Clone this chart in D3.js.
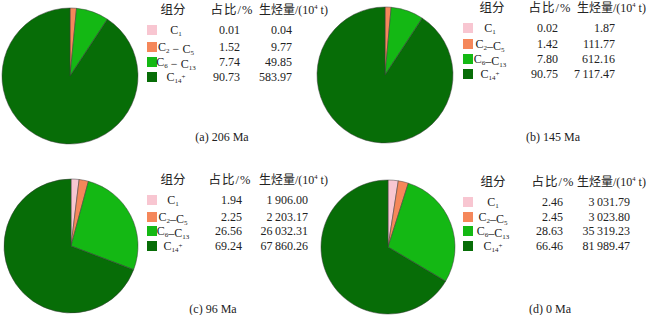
<!DOCTYPE html>
<html>
<head>
<meta charset="utf-8">
<script src="https://cdn.jsdelivr.net/npm/d3@7"></script>
<style>
  body { margin: 0; background: #fff; }
  svg text { font-family: "Liberation Serif", "Times New Roman", "Noto Sans CJK SC", serif; fill: #222; }
</style>
</head>
<body>
<div id="chart"></div>
<script>
// hydrocarbon generation by component, four time slices

var categories = ["C1", "C2-C5", "C6-C13", "C14+"];
var captions = ["(a) 206 Ma", "(b) 145 Ma", "(c) 96 Ma", "(d) 0 Ma"];
var colors = ["#f8c6d1", "#f5875a", "#14b814", "#076d07"];

var percentA = [0.01, 1.52, 7.74, 90.73];
var percentB = [0.02, 1.42, 7.80, 90.75];
var percentC = [1.94, 2.25, 26.56, 69.24];
var percentD = [2.46, 2.45, 28.63, 66.46];

var yieldA = [0.04, 9.77, 49.85, 583.97];
var yieldB = [1.87, 111.77, 612.16, 7117.47];
var yieldC = [1906.00, 2203.17, 26032.31, 67860.26];
var yieldD = [3031.79, 3023.80, 35319.23, 81989.47];

var headers = ["组分", "占比/%", "生烃量/(10"];

////////////////////////////////////////

var width = 650, height = 315;

// where each panel sits
var layout = [
    {cx: 70,  cy: 76,  r: 68, hdrY: 14,  rowY: [34, 51, 66, 81],     swX: 147, labX: 176, pctR: 240, valR: 292,
     hdrX: [173, 232, 259], capX: 222, capY: 141, sep: " − "},
    {cx: 385, cy: 75,  r: 68, hdrY: 12,  rowY: [32, 48, 63, 78],     swX: 463, labX: 490, pctR: 558, valR: 615,
     hdrX: [492, 550, 577], capX: 553, capY: 141, sep: "–"},
    {cx: 71,  cy: 246, r: 67, hdrY: 184, rowY: [204, 221, 235, 250], swX: 147, labX: 173, pctR: 242, valR: 308,
     hdrX: [173, 230, 259], capX: 213, capY: 313, sep: "–"},
    {cx: 388, cy: 247, r: 67, hdrY: 186, rowY: [206, 221, 235, 250], swX: 463, labX: 493, pctR: 563, valR: 630,
     hdrX: [493, 553, 577], capX: 550, capY: 313, sep: "–"}
];

var percents = [percentA, percentB, percentC, percentD];
var yields = [yieldA, yieldB, yieldC, yieldD];

var locale = d3.formatLocale({decimal: ".", thousands: "\u2009", grouping: [3], currency: ["", ""]});
var fmtYield = locale.format(",.2f");
var fmtPct = d3.format(".2f");

var color = d3.scaleOrdinal().domain(categories).range(colors);

var svg = d3.select("#chart").append("svg")
    .attr("width", width)
    .attr("height", height);

var pie = d3.pie().sort(null).value(function (d) { return d.value; });

////////////////////////////////////////

// C6-C13 -> C + sub 6 + sep + C + sub 13 ; C14+ -> C + sub 14 + small +
function drawLabel(g, x, y, name, sep) {
    var t = g.append("text")
        .attr("x", x)
        .attr("y", y)
        .attr("text-anchor", "middle")
        .style("font-size", "12px");
    var parts = name.split("-");
    parts.forEach(function (p, i) {
        if (i > 0) t.append("tspan").text(sep);
        var m = p.match(/^C(\d+)(\+?)$/);
        t.append("tspan").text("C");
        t.append("tspan").attr("dy", 2).style("font-size", "7px").text(m[1]);
        if (m[2]) {
            t.append("tspan").attr("dy", -4).style("font-size", "7px").text("+");
            t.append("tspan").attr("dy", 2).text("");
        } else {
            t.append("tspan").attr("dy", -2).text("");
        }
    });
}

layout.forEach(function (L, k) {
    var g = svg.append("g");
    var data = categories.map(function (c, i) { return {name: c, value: percents[k][i]}; });

    var arc = d3.arc().innerRadius(0).outerRadius(L.r);

    g.append("g")
        .attr("transform", "translate(" + L.cx + "," + L.cy + ")")
        .selectAll("path")
        .data(pie(data))
        .join("path")
        .attr("d", arc)
        .attr("fill", function (d) { return color(d.data.name); })
        .attr("stroke", "#3a3a3a")
        .attr("stroke-width", 0.5);

    // header
    g.append("text").attr("x", L.hdrX[0]).attr("y", L.hdrY)
        .attr("text-anchor", "middle").style("font-size", "12.5px").text(headers[0]);
    g.append("text").attr("x", L.hdrX[1]).attr("y", L.hdrY)
        .attr("text-anchor", "middle").style("font-size", "12.5px")
        .style("letter-spacing", "1px").text(headers[1]);
    var h3 = g.append("text").attr("x", L.hdrX[2]).attr("y", L.hdrY)
        .style("font-size", "12px").text(headers[2]);
    h3.append("tspan").attr("dy", -5).style("font-size", "6.5px").text("4");
    h3.append("tspan").attr("dy", 5).text(" t)");

    // rows
    data.forEach(function (d, i) {
        var y = L.rowY[i];
        g.append("rect")
            .attr("x", L.swX)
            .attr("y", y - 9)
            .attr("width", 10)
            .attr("height", 10)
            .attr("fill", color(d.name));
        drawLabel(g, L.labX, y, d.name, L.sep);
        g.append("text").attr("x", L.pctR).attr("y", y)
            .attr("text-anchor", "end").style("font-size", "12px")
            .text(fmtPct(d.value));
        g.append("text").attr("x", L.valR).attr("y", y)
            .attr("text-anchor", "end").style("font-size", "12px")
            .text(fmtYield(yields[k][i]));
    });

    g.append("text").attr("x", L.capX).attr("y", L.capY)
        .attr("text-anchor", "middle").style("font-size", "12px")
        .text(captions[k]);
});
</script>
</body>
</html>
